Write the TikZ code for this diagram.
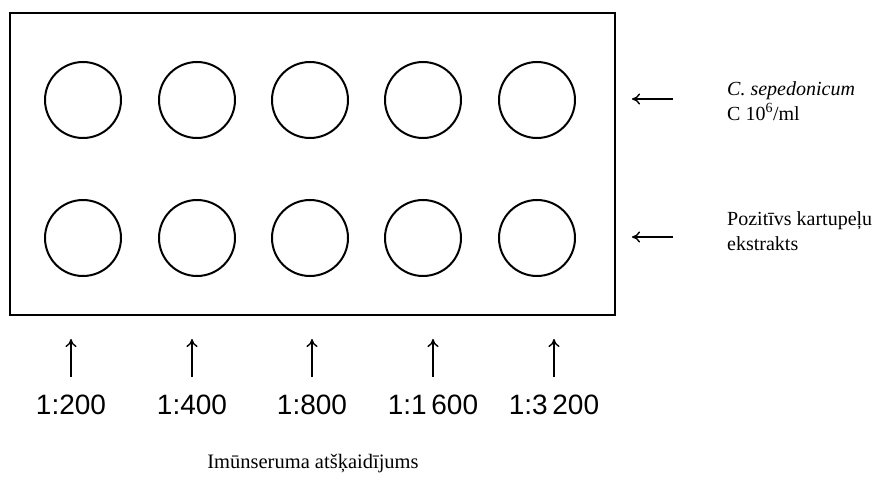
\documentclass[tikz,border=0pt]{standalone}
\usepackage{fontspec}
\setmainfont{Liberation Serif}
\newfontfamily\labelsans{Liberation Sans}
\usetikzlibrary{arrows.meta}
\begin{document}
\begin{tikzpicture}[x=1pt,y=-1pt,
  well/.style={circle,draw,line width=2pt,minimum size=76pt,inner sep=0pt},
  plate/.style={draw,line width=2.4pt},
  pointer/.style={line width=1.4pt,-{To[length=8pt,width=11pt]}},
  dil/.style={font=\labelsans\fontsize{28}{32}\selectfont,inner sep=0pt},
  side/.style={font=\fontsize{20}{25}\selectfont,align=left,anchor=west,inner sep=0pt}]
\useasboundingbox (0,0) rectangle (888,478);
\draw[plate] (10,13) rectangle (615,315);
\foreach \i/\x in {1/83,2/197,3/310,4/423,5/537}{
  \node[well] (a\i) at (\x,100) {};
  \node[well] (b\i) at (\x,238) {};
}
\coordinate (r1s) at (673,99); \coordinate (r1e) at (632,99);
\coordinate (r2s) at (673,237); \coordinate (r2e) at (632,237);
\draw[pointer] (r1s) -- (r1e);
\draw[pointer] (r2s) -- (r2e);
\node[side] (t1) at (727,101) {\textit{C. sepedonicum}\\C 10\textsuperscript{6}/ml};
\node[side] (t2) at (727,231) {Pozitīvs kartupeļu\\ekstrakts};
\foreach \i/\x/\t in {1/71/{1:200},2/192/{1:400},3/312/{1:800},4/433/{1:1\,600},5/554/{1:3\,200}}{
  \node[dil] (d\i) at (\x,405) {\t};
  \coordinate (u\i) at (\x,377);
  \coordinate (v\i) at (\x,339);
  \draw[pointer] (u\i) -- (v\i);
}
\node[font=\fontsize{20.5}{24}\selectfont,inner sep=0pt] (cap) at (313,464) {Imūnseruma atšķaidījums};
\end{tikzpicture}
\end{document}
